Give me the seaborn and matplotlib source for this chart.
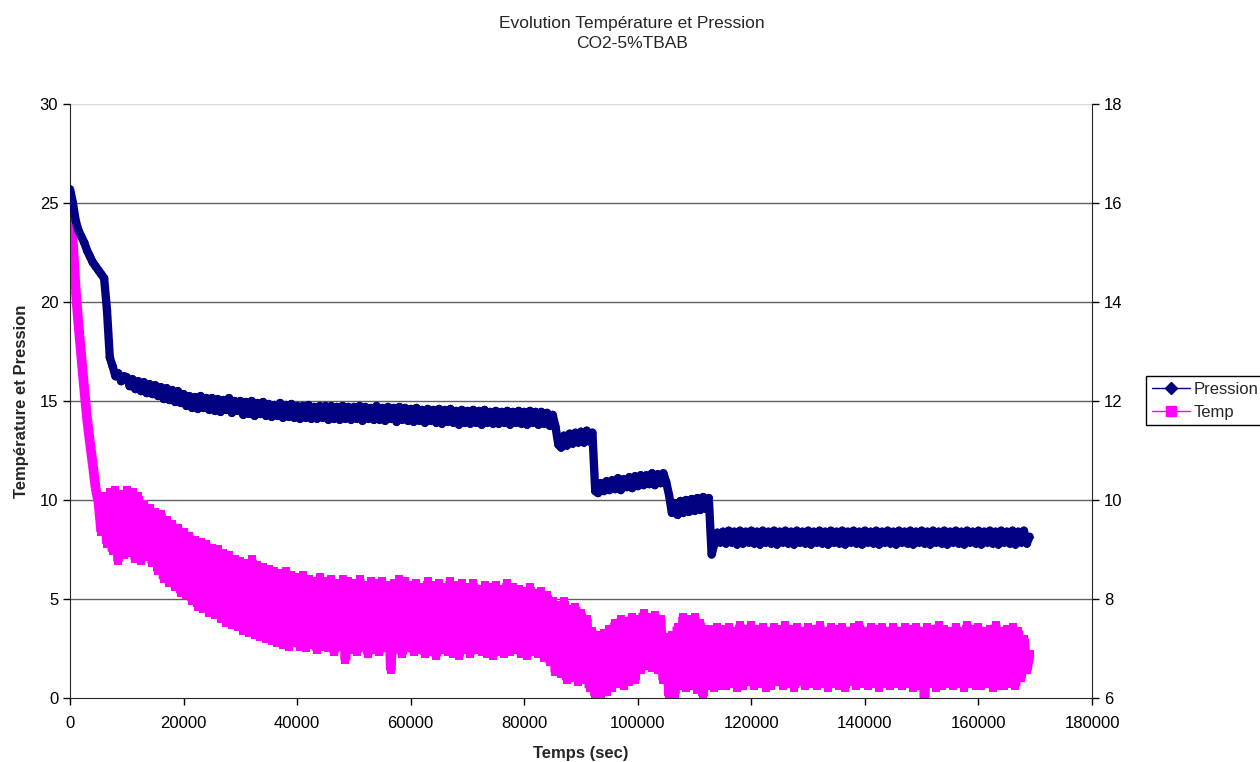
import matplotlib
matplotlib.use("Agg")
import matplotlib.pyplot as plt
from matplotlib.lines import Line2D
import seaborn as sns
import pandas as pd
import numpy as np

# Sampling times (sec), one reading every 500 s
temps_sec = np.arange(0, 169001, 500)

# Temperature readings (left axis)
temperature = [
    24.5, 23.0, 20.6, 18.8, 17.2, 15.6, 14.1, 12.9, 11.8, 10.6,
    9.9, 8.4, 10.2, 7.8, 10.4, 7.4, 10.5, 6.9, 10.3, 7.2,
    10.5, 7.3, 10.4, 7.0, 10.2, 6.9, 9.8, 7.1, 9.6, 6.8,
    9.4, 6.4, 9.3, 6.0, 9.0, 5.8, 8.8, 5.6, 8.6, 5.3,
    8.4, 5.2, 8.2, 4.9, 8.0, 4.6, 7.9, 4.5, 7.8, 4.3,
    7.6, 4.2, 7.5, 4.0, 7.3, 3.8, 7.2, 3.7, 7.0, 3.6,
    6.9, 3.4, 6.8, 3.3, 7.0, 3.2, 6.7, 3.1, 6.6, 3.0,
    6.5, 2.9, 6.4, 2.8, 6.3, 2.7, 6.4, 2.6, 6.2, 2.8,
    6.1, 2.6, 6.2, 2.5, 6.0, 2.7, 5.9, 2.4, 6.1, 2.6,
    5.9, 2.5, 6.0, 2.3, 5.8, 2.6, 6.0, 1.9, 5.9, 2.4,
    5.8, 2.3, 6.0, 2.5, 5.7, 2.2, 5.9, 2.4, 5.8, 2.3,
    5.9, 2.5, 5.7, 1.4, 5.8, 2.4, 6.0, 2.2, 5.9, 2.5,
    5.7, 2.3, 5.8, 2.4, 5.6, 2.2, 5.9, 2.3, 5.7, 2.1,
    5.8, 2.4, 5.6, 2.3, 5.9, 2.2, 5.7, 2.1, 5.8, 2.4,
    5.6, 2.2, 5.8, 2.4, 5.5, 2.3, 5.7, 2.2, 5.6, 2.1,
    5.7, 2.3, 5.5, 2.2, 5.8, 2.3, 5.6, 2.4, 5.5, 2.2,
    5.4, 2.1, 5.6, 2.3, 5.3, 2.2, 5.4, 2.0, 5.2, 1.8,
    4.9, 1.3, 4.7, 1.2, 4.9, 0.9, 4.5, 1.0, 4.6, 0.8,
    4.3, 0.9, 4.0, 0.5, 3.4, 0.1, 3.2, 0.2, 3.3, 0.3,
    3.5, 0.5, 3.8, 0.7, 4.0, 0.6, 3.9, 0.8, 4.1, 0.9,
    4.0, 1.4, 4.3, 1.6, 4.1, 1.5, 4.2, 1.4, 4.0, 0.9,
    3.1, 0.1, 3.2, 0.2, 3.6, 0.6, 4.1, 0.5, 4.0, 0.6,
    4.1, 0.4, 3.8, 0.1, 3.5, 0.6, 3.5, 0.5, 3.6, 0.6,
    3.5, 0.6, 3.6, 0.7, 3.4, 0.5, 3.7, 0.6, 3.5, 0.8,
    3.7, 0.6, 3.5, 0.7, 3.6, 0.5, 3.4, 0.6, 3.6, 0.8,
    3.5, 0.6, 3.7, 0.7, 3.5, 0.5, 3.6, 0.8, 3.4, 0.6,
    3.6, 0.7, 3.5, 0.6, 3.7, 0.7, 3.4, 0.5, 3.6, 0.7,
    3.5, 0.6, 3.6, 0.5, 3.4, 0.8, 3.6, 0.6, 3.7, 0.7,
    3.4, 0.6, 3.6, 0.7, 3.5, 0.5, 3.6, 0.7, 3.4, 0.6,
    3.6, 0.7, 3.4, 0.6, 3.6, 0.7, 3.5, 0.5, 3.6, 0.6,
    3.4, 0.0, 3.6, 0.7, 3.5, 0.5, 3.7, 0.6, 3.5, 0.7,
    3.4, 0.6, 3.6, 0.7, 3.4, 0.5, 3.7, 0.7, 3.5, 0.6,
    3.6, 0.6, 3.4, 0.7, 3.5, 0.5, 3.7, 0.6, 3.4, 0.6,
    3.5, 0.7, 3.6, 0.6, 3.4, 1.0, 3.0, 1.4, 2.2,
]

# Pressure readings (right axis, bar)
pression = [
    16.28, 16.00, 15.64, 15.44, 15.32, 15.20, 15.04, 14.92, 14.80, 14.72,
    14.64, 14.56, 14.48, 13.84, 12.88, 12.70, 12.50, 12.56, 12.40, 12.50,
    12.48, 12.30, 12.44, 12.24, 12.40, 12.20, 12.38, 12.16, 12.34, 12.14,
    12.32, 12.10, 12.28, 12.04, 12.26, 12.02, 12.22, 11.98, 12.20, 11.96,
    12.14, 11.90, 12.10, 11.86, 12.08, 11.84, 12.10, 11.86, 12.06, 11.82,
    12.06, 11.80, 12.04, 11.78, 12.02, 11.82, 12.06, 11.76, 12.00, 11.80,
    12.00, 11.72, 11.98, 11.74, 12.00, 11.70, 11.96, 11.74, 11.98, 11.70,
    11.94, 11.68, 11.92, 11.70, 11.96, 11.66, 11.92, 11.68, 11.94, 11.66,
    11.90, 11.64, 11.90, 11.66, 11.92, 11.64, 11.88, 11.64, 11.90, 11.66,
    11.90, 11.62, 11.90, 11.64, 11.88, 11.62, 11.90, 11.64, 11.88, 11.62,
    11.88, 11.64, 11.90, 11.60, 11.88, 11.64, 11.86, 11.62, 11.90, 11.62,
    11.86, 11.60, 11.88, 11.64, 11.86, 11.58, 11.88, 11.62, 11.86, 11.60,
    11.84, 11.58, 11.86, 11.60, 11.82, 11.56, 11.84, 11.60, 11.82, 11.56,
    11.84, 11.54, 11.82, 11.58, 11.84, 11.56, 11.80, 11.52, 11.82, 11.56,
    11.80, 11.54, 11.82, 11.56, 11.80, 11.52, 11.82, 11.56, 11.78, 11.54,
    11.80, 11.54, 11.78, 11.56, 11.80, 11.52, 11.78, 11.56, 11.80, 11.54,
    11.78, 11.52, 11.80, 11.56, 11.78, 11.52, 11.78, 11.54, 11.76, 11.50,
    11.72, 11.48, 11.12, 11.06, 11.30, 11.10, 11.34, 11.14, 11.36, 11.16,
    11.38, 11.16, 11.40, 11.18, 11.36, 10.18, 10.14, 10.34, 10.18, 10.38,
    10.20, 10.40, 10.22, 10.44, 10.20, 10.42, 10.26, 10.46, 10.24, 10.48,
    10.28, 10.50, 10.30, 10.50, 10.32, 10.54, 10.30, 10.52, 10.34, 10.54,
    10.36, 10.10, 9.74, 9.94, 9.70, 9.98, 9.74, 10.00, 9.76, 10.02,
    9.78, 10.04, 9.80, 10.06, 9.82, 10.04, 8.90, 9.12, 9.34, 9.14,
    9.36, 9.12, 9.38, 9.14, 9.36, 9.10, 9.38, 9.12, 9.36, 9.14,
    9.38, 9.12, 9.36, 9.10, 9.38, 9.14, 9.36, 9.12, 9.38, 9.10,
    9.36, 9.14, 9.38, 9.12, 9.36, 9.10, 9.38, 9.14, 9.36, 9.12,
    9.38, 9.10, 9.36, 9.14, 9.38, 9.12, 9.36, 9.10, 9.38, 9.14,
    9.36, 9.12, 9.38, 9.10, 9.36, 9.14, 9.38, 9.12, 9.36, 9.10,
    9.38, 9.14, 9.36, 9.12, 9.38, 9.10, 9.36, 9.14, 9.38, 9.12,
    9.36, 9.10, 9.38, 9.14, 9.36, 9.12, 9.38, 9.10, 9.36, 9.14,
    9.38, 9.12, 9.36, 9.10, 9.38, 9.14, 9.36, 9.12, 9.38, 9.10,
    9.36, 9.14, 9.38, 9.12, 9.36, 9.10, 9.38, 9.14, 9.36, 9.12,
    9.38, 9.10, 9.36, 9.14, 9.38, 9.12, 9.36, 9.10, 9.38, 9.14,
    9.36, 9.12, 9.38, 9.10, 9.36, 9.14, 9.38, 9.12, 9.26,
]

navy = '#000080'
magenta = '#FF00FF'


# split a series into its consecutive segments so each one is stroked on its own
def segments(t, v):
    t = np.asarray(t)
    v = np.asarray(v)
    idx = np.arange(len(t) - 1)
    return pd.DataFrame({
        'seg': np.repeat(idx, 2),
        't': np.column_stack([t[:-1], t[1:]]).ravel(),
        'v': np.column_stack([v[:-1], v[1:]]).ravel(),
    })


sns.set_style("ticks")
plt.rcParams['font.family'] = ['Liberation Sans', 'DejaVu Sans']

fig = plt.figure(figsize=(12.6, 7.62), dpi=100)
ax = fig.add_axes([0.0556, 0.084, 0.8111, 0.7795])
ax2 = ax.twinx()

# Temperature on primary axis (dense readings -> thick band)
n0 = len(ax.lines)
sns.lineplot(data=segments(temps_sec, temperature), x='t', y='v', units='seg',
             estimator=None, sort=False, color=magenta, linewidth=7, legend=False, ax=ax)
for ln in ax.lines[n0:]:
    ln.set_linewidth(7)
    ln.set_solid_capstyle('butt')
sns.scatterplot(x=temps_sec, y=temperature, ax=ax, marker='s', s=36,
                color=magenta, edgecolor=magenta, linewidth=0, legend=False)

# Pressure on secondary axis
n0 = len(ax2.lines)
sns.lineplot(data=segments(temps_sec, pression), x='t', y='v', units='seg',
             estimator=None, sort=False, color=navy, linewidth=6, legend=False, ax=ax2)
for ln in ax2.lines[n0:]:
    ln.set_linewidth(6)
    ln.set_solid_capstyle('round')
sns.scatterplot(x=temps_sec, y=pression, ax=ax2, marker='D', s=15,
                color=navy, edgecolor=navy, linewidth=0, legend=False)

ax.set_xlim(0, 180000)
ax.set_ylim(0, 30)
ax2.set_ylim(6, 18)
ax.set_xticks(np.arange(0, 180001, 20000))
ax.set_yticks(np.arange(0, 31, 5))
ax2.set_yticks(np.arange(6, 19, 2))

# horizontal gridlines like the original
for yv in range(5, 30, 5):
    ax.axhline(yv, color='#606060', linewidth=1, zorder=0)
ax.axhline(30, color='#d9d9d9', linewidth=1, zorder=0)

for a in (ax, ax2):
    a.spines['top'].set_visible(False)
    a.tick_params(labelsize=12, length=5, width=1, colors='black', direction='out')
ax.tick_params(axis='x', pad=8)
ax.spines['right'].set_visible(False)
ax2.spines['left'].set_visible(False)
ax2.spines['bottom'].set_visible(False)

ax.set_xlabel('Temps (sec)', fontsize=12, fontweight='bold', labelpad=11)
ax.set_ylabel('Température et Pression', fontsize=12, fontweight='bold', labelpad=8)
ax2.set_ylabel('')

fig.text(0.5016, 0.9695, 'Evolution Température et Pression', ha='center', va='center', fontsize=12.5)
fig.text(0.5016, 0.9435, 'CO2-5%TBAB', ha='center', va='center', fontsize=12.5)

handles = [
    Line2D([], [], color=navy, linewidth=1, marker='D', markersize=6, markeredgecolor=navy),
    Line2D([], [], color=magenta, linewidth=1, marker='s', markersize=7, markeredgecolor=magenta),
]
leg = fig.legend(handles, ['Pression', 'Temp'], loc='center left', bbox_to_anchor=(0.9095, 0.474),
                 fontsize=12, frameon=True, fancybox=False, framealpha=1,
                 edgecolor='black', handlelength=2.3, borderpad=0.35,
                 labelspacing=0.45, handletextpad=0.2, borderaxespad=0)
leg.get_frame().set_linewidth(1)

fig.savefig('out.png', dpi=100)
